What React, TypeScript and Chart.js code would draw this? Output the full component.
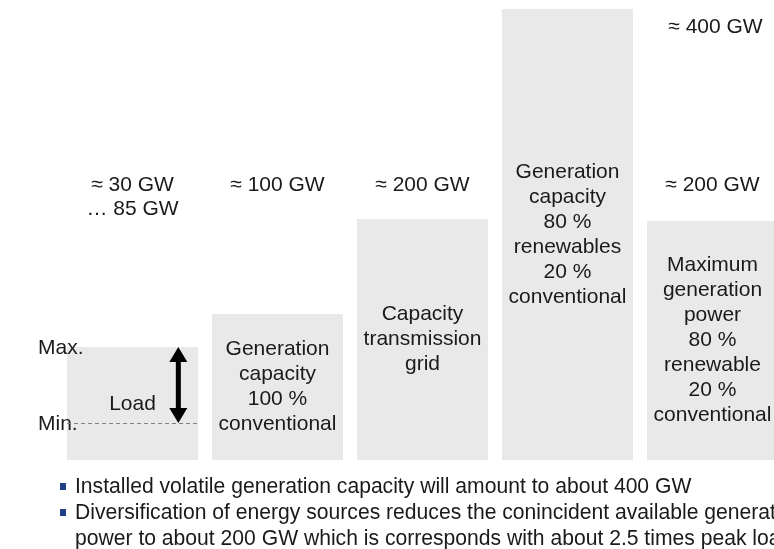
import React, { useEffect, useRef } from "react";
import { Chart, registerables } from "chart.js";

Chart.register(...registerables);

// ---- data ----
const categories = ["Load", "Conventional capacity", "Transmission grid", "Installed capacity", "Max. generation power"];
// schematic bar heights (relative units)
const barHeights = [113, 146, 241, 451, 239];
const loadMin = 37;
const topLabels: string[][] = [["≈ 30 GW", "… 85 GW"], ["≈ 100 GW"], ["≈ 200 GW"], [], ["≈ 200 GW"]];
const insideLabels: string[][] = [
  [],
  ["Generation", "capacity", "100 %", "conventional"],
  ["Capacity", "transmission", "grid"],
  ["Generation", "capacity", "80 %", "renewables", "20 %", "conventional"],
  ["Maximum", "generation", "power", "80 %", "renewable", "20 %", "conventional"],
];
const peakLabel = "≈ 400 GW";
const loadLabel = "Load";
const maxLabel = "Max.";
const minLabel = "Min.";
const bullets = [
  ["Installed volatile generation capacity will amount to about 400 GW"],
  [
    "Diversification of energy sources reduces the conincident available generation",
    "power to about 200 GW which is corresponds with about 2.5 times peak load",
  ],
];

const FONT = '"Liberation Sans", Arial, sans-serif';

const overlay = {
  id: "overlay",
  afterDatasetsDraw(chart: any) {
    const ctx = chart.ctx;
    const meta = chart.getDatasetMeta(0);
    const ys = chart.scales.y;
    const lh = 25;
    ctx.save();
    ctx.fillStyle = "#1a1a1a";
    ctx.font = `21px ${FONT}`;
    ctx.textAlign = "center";
    ctx.textBaseline = "middle";
    meta.data.forEach((bar: any, i: number) => {
      const inside = insideLabels[i];
      const mid = (bar.y + bar.base) / 2;
      inside.forEach((t, k) => {
        ctx.fillText(t, bar.x, mid + (k - (inside.length - 1) / 2) * lh);
      });
      const top = topLabels[i];
      const ty = ys.getPixelForValue(275);
      top.forEach((t, k) => ctx.fillText(t, bar.x, ty + k * 24));
    });
    // peak label
    const b4 = meta.data[4];
    ctx.fillText(peakLabel, b4.x + 3, ys.getPixelForValue(433));

    // load bar details
    const b0 = meta.data[0];
    const left = b0.x - b0.width / 2;
    const right = b0.x + b0.width / 2;
    const yMin = ys.getPixelForValue(loadMin);
    const yMax = ys.getPixelForValue(barHeights[0]);
    ctx.fillText(loadLabel, b0.x, ys.getPixelForValue(56));
    ctx.textAlign = "left";
    ctx.fillText(maxLabel, 38, yMax + 1);
    ctx.fillText(minLabel, 38, yMin + 1);

    ctx.strokeStyle = "#808080";
    ctx.lineWidth = 1;
    ctx.setLineDash([4, 3]);
    ctx.beginPath();
    ctx.moveTo(left, yMin + 0.5);
    ctx.lineTo(right, yMin + 0.5);
    ctx.stroke();
    ctx.setLineDash([]);

    // double arrow
    const ax = b0.x + b0.width * 0.35;
    const hw = 9;
    const hh = 15;
    ctx.fillStyle = "#000";
    ctx.fillRect(ax - 2.5, yMax + hh - 1, 5, yMin - yMax - 2 * hh + 2);
    ctx.beginPath();
    ctx.moveTo(ax, yMax);
    ctx.lineTo(ax + hw, yMax + hh);
    ctx.lineTo(ax - hw, yMax + hh);
    ctx.closePath();
    ctx.fill();
    ctx.beginPath();
    ctx.moveTo(ax, yMin);
    ctx.lineTo(ax + hw, yMin - hh);
    ctx.lineTo(ax - hw, yMin - hh);
    ctx.closePath();
    ctx.fill();

    // bullets
    let y = 487;
    bullets.forEach((lines) => {
      ctx.fillStyle = "#1f3f86";
      ctx.fillRect(60, y - 4, 6, 7);
      ctx.fillStyle = "#1a1a1a";
      lines.forEach((t) => {
        ctx.font = `22px ${FONT}`;
        ctx.textAlign = "left";
        ctx.save();
        ctx.translate(75, y);
        ctx.scale(0.96, 1);
        ctx.fillText(t, 0, 0);
        ctx.restore();
        y += 26;
      });
    });
    ctx.restore();
  },
};

export default function App() {
  const ref = useRef<HTMLCanvasElement>(null);
  useEffect(() => {
    if (!ref.current) return;
    const chart = new Chart(ref.current, {
      type: "bar",
      data: {
        labels: categories,
        datasets: [
          {
            data: barHeights,
            backgroundColor: "#e9e9e9",
            borderWidth: 0,
            categoryPercentage: 1,
            barPercentage: 0.903,
          },
        ],
      },
      options: {
        animation: false,
        responsive: false,
        devicePixelRatio: 1,
        layout: { padding: { left: 60, right: 15, top: 0, bottom: 89 } },
        plugins: { legend: { display: false }, tooltip: { enabled: false } },
        scales: {
          x: { display: false },
          y: { display: false, min: 0, max: 460 },
        },
      },
      plugins: [overlay],
    });
    return () => chart.destroy();
  }, []);
  return (
    <div style={{ position: "fixed", left: 0, top: 0, width: 774, height: 549, overflow: "hidden", background: "#fff" }}>
      <canvas ref={ref} width={800} height={549} style={{ width: 800, height: 549, display: "block" }} />
    </div>
  );
}
